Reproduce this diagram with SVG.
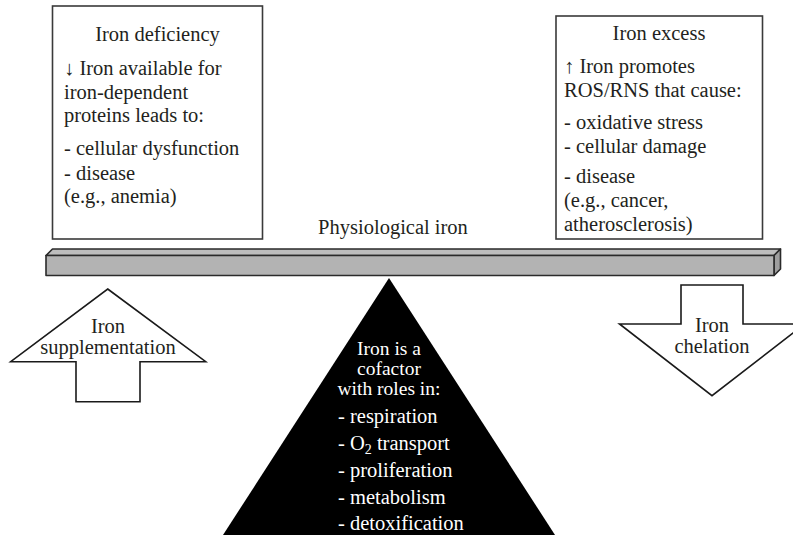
<svg xmlns="http://www.w3.org/2000/svg" width="793" height="537" viewBox="0 0 793 537">
<style>
text{font-family:"Liberation Serif","Times New Roman",serif;font-size:20.5px;fill:#231f20}
.c{text-anchor:middle}
.w{fill:#ffffff}
.t{font-size:19.5px}
.box{fill:#ffffff;stroke:#3a3a3a;stroke-width:1.6}
.arr{fill:#ffffff;stroke:#1a1a1a;stroke-width:1.6;stroke-linejoin:miter}
.bar{stroke:#2a2a2a;stroke-width:1.6;stroke-linejoin:round}
</style>
<rect width="793" height="537" fill="#ffffff"/>
<g id="deficiency">
<rect class="box" x="52.5" y="6" width="210" height="233"/>
<text class="c" x="157.5" y="41">Iron deficiency</text>
<text x="64" y="75">↓ Iron available for</text>
<text x="64" y="99">iron-dependent</text>
<text x="64" y="122">proteins leads to:</text>
<text x="64" y="155">- cellular dysfunction</text>
<text x="64" y="180">- disease</text>
<text x="64" y="203">(e.g., anemia)</text>
</g>
<g id="excess">
<rect class="box" x="556" y="16" width="206.5" height="223"/>
<text class="c" x="659" y="40">Iron excess</text>
<text x="564" y="73">↑ Iron promotes</text>
<text x="564" y="97">ROS/RNS that cause:</text>
<text x="564" y="129">- oxidative stress</text>
<text x="564" y="153">- cellular damage</text>
<text x="564" y="183">- disease</text>
<text x="564" y="207">(e.g., cancer,</text>
<text x="564" y="231">atherosclerosis)</text>
</g>
<g id="physiological">
<text class="c" x="393" y="234">Physiological iron</text>
</g>
<g id="bar">
<polygon class="bar" fill="#bdbdbd" points="46,255.5 52.5,249 780.5,249 774,255.5"/>
<polygon class="bar" fill="#9e9e9e" points="774,255.5 780.5,249 780.5,269 774,275.5"/>
<rect class="bar" fill="#b3b3b3" x="46" y="255.5" width="728" height="20"/>
</g>
<g id="fulcrum">
<polygon fill="#000000" points="389,278 555,535 223,535"/>
<text class="c w t" x="389" y="355">Iron is a</text>
<text class="c w t" x="389" y="375">cofactor</text>
<text class="c w t" x="389" y="395">with roles in:</text>
<text class="w" x="338" y="423">- respiration</text>
<text class="w" x="338" y="450">- O<tspan font-size="14" dy="4">2</tspan><tspan dy="-4"> transport</tspan></text>
<text class="w" x="338" y="477">- proliferation</text>
<text class="w" x="338" y="504">- metabolism</text>
<text class="w" x="338" y="530">- detoxification</text>
</g>
<g id="supplementation">
<polygon class="arr" points="107.7,289 205.7,361.7 140,361.7 140,401.7 76,401.7 76,361.7 10.7,361.7"/>
<text class="c" x="108" y="333">Iron</text>
<text class="c" x="108" y="354">supplementation</text>
</g>
<g id="chelation">
<polygon class="arr" points="681,285 743,285 743,324 804.5,324 712,395.7 619.5,324 681,324"/>
<text class="c" x="712" y="332">Iron</text>
<text class="c" x="712" y="353">chelation</text>
</g>
<g id="connectors"></g>
</svg>
